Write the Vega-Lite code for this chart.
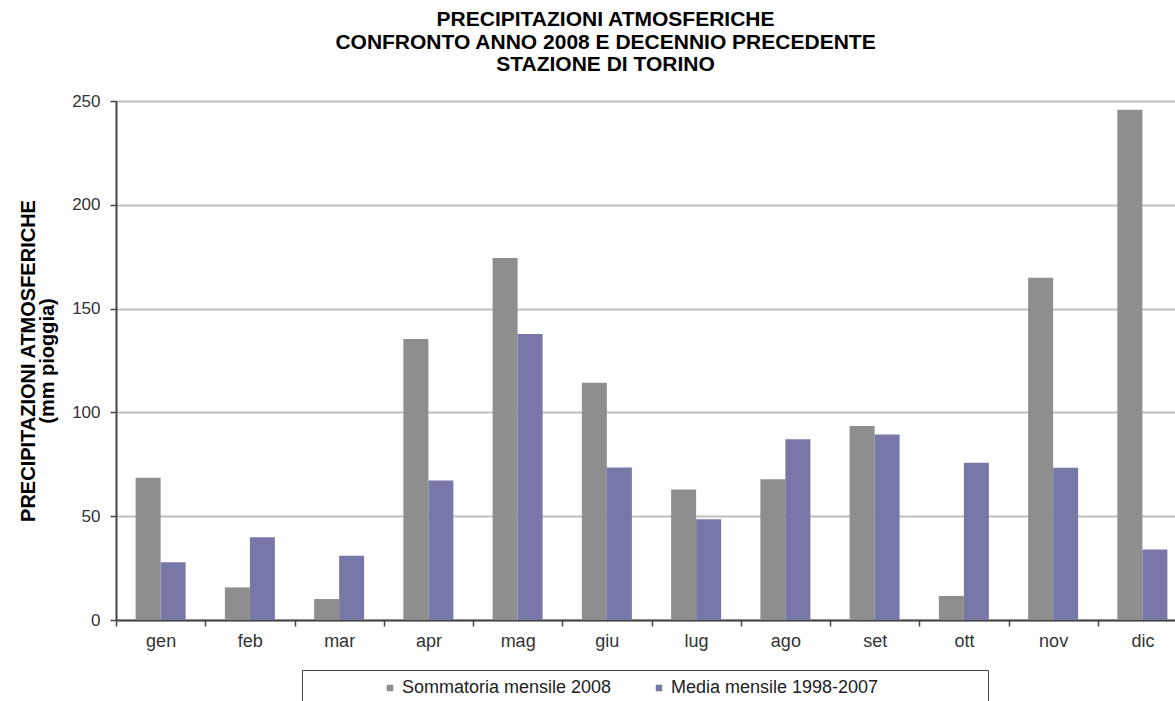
{
  "$schema": "https://vega.github.io/schema/vega-lite/v6.json",
  "width": 1059,
  "height": 519,
  "autosize": {"type": "none"},
  "padding": {"left": 116, "top": 101, "right": 0, "bottom": 81},
  "background": "white",
  "config": {"view": {"stroke": null}, "font": "Liberation Sans"},
  "title": {
    "text": ["PRECIPITAZIONI ATMOSFERICHE", "CONFRONTO ANNO 2008 E DECENNIO PRECEDENTE", "STAZIONE DI TORINO"],
    "fontSize": 21,
    "fontWeight": "bold",
    "font": "Liberation Sans",
    "color": "#000000",
    "anchor": "middle",
    "frame": "group",
    "dx": -40,
    "baseline": "bottom",
    "lineHeight": 22.5,
    "offset": -4
  },
  "data": {
    "values": [
      {"mese": "gen", "serie": "Sommatoria mensile 2008", "valore": 68.5},
      {"mese": "gen", "serie": "Media mensile 1998-2007", "valore": 27.8},
      {"mese": "feb", "serie": "Sommatoria mensile 2008", "valore": 15.7},
      {"mese": "feb", "serie": "Media mensile 1998-2007", "valore": 39.9},
      {"mese": "mar", "serie": "Sommatoria mensile 2008", "valore": 10.1},
      {"mese": "mar", "serie": "Media mensile 1998-2007", "valore": 30.9},
      {"mese": "apr", "serie": "Sommatoria mensile 2008", "valore": 135.3},
      {"mese": "apr", "serie": "Media mensile 1998-2007", "valore": 67.2},
      {"mese": "mag", "serie": "Sommatoria mensile 2008", "valore": 174.4},
      {"mese": "mag", "serie": "Media mensile 1998-2007", "valore": 137.8},
      {"mese": "giu", "serie": "Sommatoria mensile 2008", "valore": 114.3},
      {"mese": "giu", "serie": "Media mensile 1998-2007", "valore": 73.4},
      {"mese": "lug", "serie": "Sommatoria mensile 2008", "valore": 62.9},
      {"mese": "lug", "serie": "Media mensile 1998-2007", "valore": 48.5},
      {"mese": "ago", "serie": "Sommatoria mensile 2008", "valore": 67.8},
      {"mese": "ago", "serie": "Media mensile 1998-2007", "valore": 87.1},
      {"mese": "set", "serie": "Sommatoria mensile 2008", "valore": 93.4},
      {"mese": "set", "serie": "Media mensile 1998-2007", "valore": 89.4},
      {"mese": "ott", "serie": "Sommatoria mensile 2008", "valore": 11.6},
      {"mese": "ott", "serie": "Media mensile 1998-2007", "valore": 75.8},
      {"mese": "nov", "serie": "Sommatoria mensile 2008", "valore": 164.9},
      {"mese": "nov", "serie": "Media mensile 1998-2007", "valore": 73.3},
      {"mese": "dic", "serie": "Sommatoria mensile 2008", "valore": 245.8},
      {"mese": "dic", "serie": "Media mensile 1998-2007", "valore": 33.9}
    ]
  },
  "mark": {"type": "bar"},
  "encoding": {
    "x": {
      "field": "mese",
      "type": "nominal",
      "sort": ["gen", "feb", "mar", "apr", "mag", "giu", "lug", "ago", "set", "ott", "nov", "dic"],
      "scale": {"range": [0, 1071], "paddingInner": 0, "paddingOuter": 0},
      "axis": {
        "title": null,
        "labelAngle": 0,
        "tickBand": "extent",
        "labelFontSize": 18,
        "labelFont": "Liberation Sans",
        "labelColor": "#333333",
        "labelPadding": 6,
        "tickSize": 6,
        "tickWidth": 1.5,
        "tickColor": "#444444",
        "domainColor": "#444444",
        "domainWidth": 2,
        "grid": false
      }
    },
    "xOffset": {
      "field": "serie",
      "type": "nominal",
      "sort": ["Sommatoria mensile 2008", "Media mensile 1998-2007"],
      "scale": {"paddingInner": 0, "paddingOuter": 0.785}
    },
    "y": {
      "field": "valore",
      "type": "quantitative",
      "scale": {"domain": [0, 250]},
      "axis": {
        "title": ["PRECIPITAZIONI ATMOSFERICHE", "(mm pioggia)"],
        "titleFontSize": 20,
        "titleFont": "Liberation Sans",
        "titleFontWeight": "bold",
        "titleColor": "#000000",
        "titleLineHeight": 19,
        "titleX": -82,
        "titleY": 259.5,
        "titleAngle": -90,
        "titleAlign": "center",
        "titleBaseline": "alphabetic",
        "values": [0, 50, 100, 150, 200, 250],
        "grid": true,
        "gridColor": "#bdbdbd",
        "gridWidth": 2,
        "domainColor": "#444444",
        "domainWidth": 2,
        "tickColor": "#444444",
        "tickSize": 6,
        "tickWidth": 1.5,
        "labelFontSize": 17,
        "labelFont": "Liberation Sans",
        "labelColor": "#333333",
        "labelPadding": 10
      }
    },
    "color": {
      "field": "serie",
      "type": "nominal",
      "scale": {
        "domain": ["Sommatoria mensile 2008", "Media mensile 1998-2007"],
        "range": ["#8e8e8e", "#7878a8"]
      },
      "legend": {
        "title": " ",
        "titleOrient": "left",
        "titlePadding": 70,
        "orient": "none",
        "legendX": 186,
        "legendY": 569,
        "direction": "horizontal",
        "strokeColor": "#444444",
        "padding": 9,
        "symbolType": "square",
        "symbolSize": 42,
        "symbolStrokeWidth": 0,
        "labelFontSize": 18,
        "labelFont": "Liberation Sans",
        "labelColor": "#222222",
        "labelOffset": 3,
        "labelLimit": 0,
        "columnPadding": 38,
        "labelExpr": "indexof(datum.label, 'Media') >= 0 ? datum.label + '\u00a0\u00a0\u00a0\u00a0\u00a0\u00a0\u00a0\u00a0\u00a0\u00a0\u00a0\u00a0\u00a0\u00a0\u00a0\u00a0\u00a0\u00a0\u00a0\u00a0\u200b' : datum.label"
      }
    }
  }
}
